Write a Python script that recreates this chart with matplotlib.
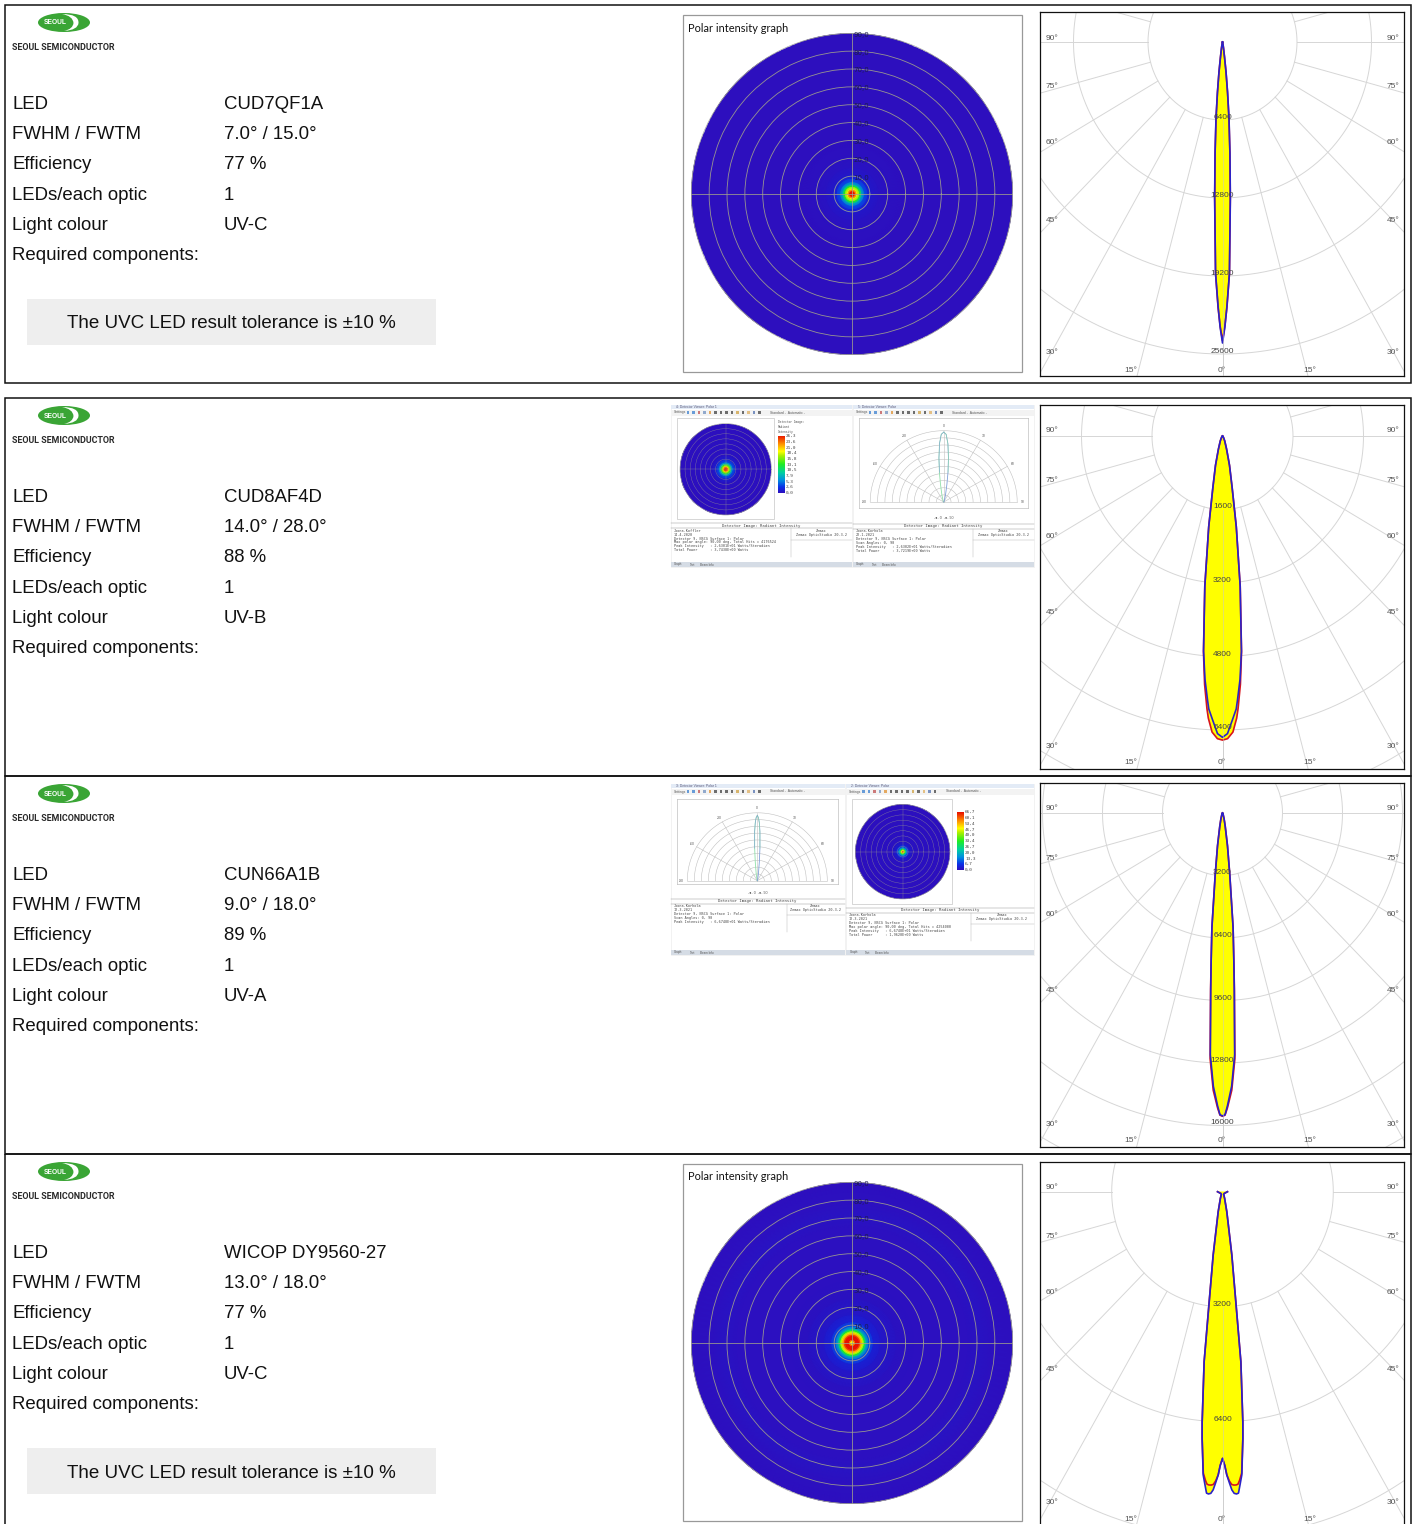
import numpy as np
import matplotlib
matplotlib.use('Agg')
import matplotlib.pyplot as plt
from matplotlib.colors import LinearSegmentedColormap
from matplotlib.patches import Ellipse, PathPatch, Rectangle
from matplotlib.path import Path

W, H = 1415, 1524

# table text
row_labels = ['LED', 'FWHM / FWTM', 'Efficiency', 'LEDs/each optic', 'Light colour', 'Required components:']
led_names = ['CUD7QF1A', 'CUD8AF4D', 'CUN66A1B', 'WICOP DY9560-27']
fwhm_fwtm = ['7.0° / 15.0°', '14.0° / 28.0°', '9.0° / 18.0°', '13.0° / 18.0°']
efficiency = ['77 %', '88 %', '89 %', '77 %']
leds_per_optic = ['1', '1', '1', '1']
light_colour = ['UV-C', 'UV-B', 'UV-A', 'UV-C']
tolerance_note = 'The UVC LED result tolerance is ±10 %'

# candela polar curves, half profile mirrored around 0 deg
cd_steps = [6400, 1600, 3200, 3200]
cd_angle_1 = [0, 0.5, 1, 1.8, 3, 4, 5.1, 6, 7, 8, 10, 14, 25, 90]
cd_blue_1 = [24700, 23400, 21700, 19000, 12900, 9200, 6300, 4200, 2500, 1250, 500, 150, 40, 0]
cd_red_1 = [24500, 23300, 21800, 19000, 12800, 9100, 6200, 4100, 2460, 1230, 500, 150, 40, 0]

cd_angle_2 = [0, 1, 2.1, 3, 3.4, 4.3, 5.25, 7, 9, 11, 14, 18, 25, 35, 60, 90]
cd_blue_2 = [6560, 6480, 6180, 5950, 5750, 5310, 4700, 3290, 2000, 1150, 657, 300, 120, 40, 10, 0]
cd_red_2 = [6620, 6590, 6450, 6150, 5950, 5420, 4720, 3300, 2000, 1150, 657, 300, 120, 40, 10, 0]

cd_angle_3 = [0, 0.5, 1, 2, 3, 4, 4.5, 5.5, 7, 9, 12, 16, 25, 50, 90]
cd_blue_3 = [15510, 15450, 15000, 14000, 12400, 9000, 7750, 5900, 3200, 1700, 700, 300, 80, 10, 0]
cd_red_3 = [15530, 15470, 15100, 14200, 12600, 9100, 7780, 5900, 3200, 1700, 700, 300, 80, 10, 0]

cd_angle_4 = [0, 0.5, 0.9, 1.4, 1.86, 2.3, 2.76, 3.15, 3.5, 4.05, 4.9, 5.24, 6.4, 7.1, 8.7, 12.6, 18, 25, 45, 90]
cd_blue_4 = [7420, 7620, 7880, 8100, 8300, 8400, 8420, 8400, 8200, 7900, 6890, 6430, 4760, 3175, 1780, 570, 200, 80, 70, 144]
cd_red_4 = [7420, 7620, 7880, 8050, 8150, 8170, 8170, 8150, 8050, 7850, 6890, 6430, 4760, 3175, 1780, 570, 200, 80, 70, 144]

# radial false colour profiles of the detector discs (0 to 1 of peak)
disc_r_1 = [0, 1.5, 2, 3, 4.5, 5.5, 7, 9, 11, 15, 22, 30, 90]
disc_v_1 = [1.0, 1.0, 0.9, 0.72, 0.5, 0.3, 0.15, 0.07, 0.03, 0.015, 0.005, 0, 0]
disc_r_2 = [0, 2, 4, 6, 8, 10, 12, 15, 20, 28, 90]
disc_v_2 = [1.0, 1.0, 0.92, 0.78, 0.62, 0.45, 0.3, 0.15, 0.05, 0.01, 0]
disc_r_3 = [0, 1, 2, 3.5, 4.5, 6, 7.5, 10, 14, 20, 90]
disc_v_3 = [1.0, 1.0, 0.9, 0.75, 0.62, 0.42, 0.28, 0.12, 0.04, 0.01, 0]
disc_r_4 = [0, 1, 1.5, 2.3, 4, 5, 6, 7, 8, 9.5, 12, 16, 25, 35, 65, 72, 78, 90]
disc_v_4 = [0.72, 0.72, 0.85, 1.0, 1.0, 0.85, 0.7, 0.5, 0.3, 0.15, 0.06, 0.03, 0.01, 0.005, 0.005, 0.015, 0.005, 0]
disc_ticks = [10, 20, 30, 40, 50, 60, 70, 80, 90]

# small screenshot data
bar_labels_2 = ['26,3', '23,6', '21,0', '18,4', '15,8', '13,1', '10,5', '7,9', '5,3', '2,6', '0,0']
bar_labels_3 = ['66,7', '60,1', '53,4', '46,7', '40,0', '33,4', '26,7', '20,0', '13,3', '6,7', '0,0']
lobe_angle_2 = [0, 2, 4, 6, 8, 10, 14, 20, 30, 60, 90]
lobe_val_2 = [0.98, 0.95, 0.82, 0.62, 0.42, 0.25, 0.10, 0.03, 0.01, 0, 0]
lobe_angle_3 = [0, 1, 2, 3, 4.5, 6, 9, 14, 25, 90]
lobe_val_3 = [0.96, 0.93, 0.85, 0.72, 0.48, 0.28, 0.10, 0.02, 0, 0]
info_2_left = ['Joona.Koffler', '14.4.2020', 'Detector 9, NSCG Surface 1: Polar',
               'Max polar angle: 90,00 deg, Total Hits = 4176524',
               'Peak Intensity   : 2,6301E+01 Watts/Steradian', 'Total Power      : 3,7438E+00 Watts']
info_2_right = ['Joona.Korhola', '22.1.2021', 'Detector 9, NSCG Surface 1: Polar', 'Scan Angles: 0, 90',
                'Peak Intensity   : 2,6302E+01 Watts/Steradian', 'Total Power      : 3,7219E+00 Watts']
info_3_left = ['Joona.Korhola', '12.3.2021', 'Detector 9, NSCG Surface 1: Polar', 'Scan Angles: 0, 90',
               'Peak Intensity   : 6,6748E+01 Watts/Steradian']
info_3_right = ['Joona.Korhola', '12.3.2021', 'Detector 9, NSCG Surface 1: Polar',
                'Max polar angle: 90,00 deg, Total Hits = 4254000',
                'Peak Intensity   : 6,6748E+01 Watts/Steradian', 'Total Power      : 1,9620E+00 Watts']

plt.rcParams['font.family'] = ['Liberation Sans', 'DejaVu Sans']

zemax = LinearSegmentedColormap.from_list('zemax', [
    (0.0, '#2d0fbe'), (0.1, '#0a30e8'), (0.22, '#0090e0'), (0.35, '#00d0a0'), (0.5, '#20ee20'),
    (0.65, '#b0f000'), (0.72, '#ffff00'), (0.85, '#ff9000'), (1.0, '#e81000')])

fig = plt.figure(figsize=(W / 100, H / 100), dpi=100, facecolor='white')


def px_axes(x0, y0, x1, y1, **kw):
    return fig.add_axes([x0 / W, 1 - y1 / H, (x1 - x0) / W, (y1 - y0) / H], **kw)


# page layer in pixel coordinates
page = px_axes(0, 0, W, H, zorder=0)
page.set_xlim(0, W)
page.set_ylim(H, 0)
page.axis('off')


def draw_logo(dy):
    page.add_patch(Ellipse((64, 22.5 + dy), 52, 19, color='#3aa535', lw=0))
    verts = [(62, 14 + dy), (79, 14 + dy), (78.5, 23 + dy), (78, 30 + dy), (64, 31 + dy),
             (73, 29 + dy), (73.5, 23 + dy), (73, 16 + dy), (62, 14 + dy)]
    codes = [Path.MOVETO, Path.CURVE3, Path.CURVE3, Path.CURVE3, Path.CURVE3,
             Path.CURVE3, Path.CURVE3, Path.CURVE3, Path.CURVE3]
    page.add_patch(PathPatch(Path(verts, codes), fc='white', ec='none'))
    page.text(55, 23 + dy, 'SEOUL', color='white', fontsize=4.8, fontweight='bold', ha='center', va='center')
    page.text(12, 50 + dy, 'SEOUL SEMICONDUCTOR', family=['Roboto', 'Liberation Sans'],
              fontweight='bold', fontsize=6.4, color='#2a2a2a', va='baseline')


def draw_table(i, dy, note_box):
    values = [led_names[i], fwhm_fwtm[i], efficiency[i], leds_per_optic[i], light_colour[i]]
    offs = [0, 30, 60, 91, 121, 151]
    for k, label in enumerate(row_labels):
        page.text(12, 109 + dy + offs[k], label, fontsize=13.45, color='#111111', va='baseline')
        if k < 5:
            page.text(224, 109 + dy + offs[k], values[k], fontsize=13.45, color='#111111', va='baseline')
    if note_box:
        page.add_patch(Rectangle((27, 299 + dy), 409, 46, fc='#eeeeee', ec='none'))
        page.text(231.3, 328.5 + dy, tolerance_note, fontsize=13.5, color='#111111', ha='center', va='baseline')


def draw_disc(cx, cy, R, rs, vs, labels):
    ax = px_axes(cx - R, cy - R, cx + R, cy + R, projection='polar', zorder=2)
    theta = np.radians(np.arange(0, 361, 2))
    tt, rr = np.meshgrid(theta, rs)
    zz = np.repeat(np.array(vs)[:, None], len(theta), axis=1)
    ax.pcolormesh(tt, rr, zz, cmap=zemax, vmin=0, vmax=1, shading='gouraud')
    ax.set_ylim(0, 90)
    ax.set_rticks(disc_ticks)
    ax.set_thetagrids([0, 90, 180, 270], labels=[])
    ax.grid(True, color='#a3a38c', lw=0.6 if labels else 0.3, alpha=0.9 if labels else 0.7)
    ax.spines['polar'].set_color('#999999')
    ax.spines['polar'].set_linewidth(0.4)
    ax.set_yticklabels([])
    ax.tick_params(length=0, pad=0)
    if labels:
        for t in disc_ticks:
            ax.annotate(f'{t},0', (np.pi / 2, t), xytext=(1, -1), textcoords='offset points', ha='left', va='center',
                        fontsize=5, color='#1c1c50', family='DejaVu Sans', annotation_clip=False)
    return ax


def draw_candela(x0, y0, x1, y1, oy, ring_py, ring_px, step, angles, blue, red, n_labels):
    ax = px_axes(x0, y0, x1, y1, zorder=2)
    ox = (x0 + x1) / 2 + 0.5
    sx = ring_px / step
    sy = ring_py / step
    ax.set_xlim((x0 - ox) / sx, (x1 - ox) / sx)
    ax.set_ylim((oy - y1) / sy, (oy - y0) / sy)
    ax.set_xticks([])
    ax.set_yticks([])
    for s in ax.spines.values():
        s.set_color('#111111')
        s.set_linewidth(0.9)
    grid_c = '#d6d6d6'
    t = np.radians(np.linspace(-180, 180, 721))
    for k in range(1, 9):
        ax.plot(k * step * np.sin(t), -k * step * np.cos(t), color=grid_c, lw=0.7, zorder=1)
    for a in range(-165, 180, 15):
        aa = np.radians(a)
        ax.plot([step * np.sin(aa), 9 * step * np.sin(aa)], [-step * np.cos(aa), -9 * step * np.cos(aa)],
                color=grid_c, lw=0.7, zorder=1)
    a_half = np.radians(np.array(angles))
    a_full = np.concatenate([-a_half[::-1], a_half[1:]])
    for vals in (red, blue):
        v = np.array(vals, dtype=float)
        v_full = np.concatenate([v[::-1], v[1:]])
        ax.fill(v_full * np.sin(a_full), -v_full * np.cos(a_full), color='#ffff00', lw=0, zorder=2)
    for vals, col in ((red, '#d8141c'), (blue, '#2a22c8')):
        v = np.array(vals, dtype=float)
        v_full = np.concatenate([v[::-1], v[1:]])
        ax.plot(v_full * np.sin(a_full), -v_full * np.cos(a_full), color=col, lw=1.2, zorder=3)
    ax.plot([0, 0], [-step, -9 * step], color='#c8c8c8', lw=0.6, zorder=4, alpha=0.6)
    for k in range(1, n_labels + 1):
        ax.annotate(str(k * step), (0, -k * step), xytext=(0, 1.8), textcoords='offset points',
                    ha='center', va='center', fontsize=6, color='#444444', zorder=5)
    h = y1 - y0
    for lab, yy in (('90°', 26), ('75°', 75), ('60°', 131), ('45°', 208), ('30°', 341)):
        ax.text(6 / (x1 - x0), 1 - yy / h, lab, transform=ax.transAxes, fontsize=6, color='#555555', va='center')
        ax.text(1 - 17 / (x1 - x0), 1 - yy / h, lab, transform=ax.transAxes, fontsize=6, color='#555555',
                va='center', ha='left')
    for lab, xx in (('15°', 91), ('0°', 181.5), ('15°', 270)):
        ax.text(xx / (x1 - x0), 1 - 358 / h, lab, transform=ax.transAxes, fontsize=6, color='#555555',
                ha='center', va='center')


def draw_window(x0, y0, x1, y1, title, tool_h=6):
    page.add_patch(Rectangle((x0, y0), x1 - x0, y1 - y0, fc='white', ec='#e8e8e8', lw=0.4))
    page.add_patch(Rectangle((x0, y0), x1 - x0, 4, fc='#e3ebf6', ec='none'))
    page.text(x0 + 5, y0 + 2, title, fontsize=2.4, color='#555577', va='center')
    page.add_patch(Rectangle((x0, y0 + 4.5), x1 - x0, tool_h, fc='#f3f3f3', ec='none'))
    page.text(x0 + 3, y0 + 7.5, 'Settings', fontsize=2.4, color='#555555', va='center')
    cols = ['#3a7fd0', '#3a7fd0', '#c05050', '#7090c0', '#e09030', '#404040', '#404040', '#404040', '#404040',
            '#d0a040', '#404040', '#e0b060', '#5070b0', '#404040']
    for k, c in enumerate(cols):
        page.add_patch(Rectangle((x0 + 16 + k * 5.5, y0 + 6), 2.8, 3, fc=c, ec='none', alpha=0.75))
    page.text(x0 + 100, y0 + 7.5, 'Standard -  Automatic -', fontsize=2.4, color='#555555', va='center')
    page.add_patch(Rectangle((x0, y1 - 5), x1 - x0, 5, fc='#d5dce5', ec='none'))
    for k, lab in enumerate(['Graph', 'Text', 'Beam Info']):
        page.text(x0 + 8 + k * 14, y1 - 2.5, lab, fontsize=2.2, color='#555555', ha='center', va='center')


def draw_info(x0, x1, y_title, xsep, lines):
    page.plot([x0, x1], [y_title - 2.5, y_title - 2.5], color='#9a9a9a', lw=0.35)
    page.plot([x0, x1], [y_title + 2.5, y_title + 2.5], color='#9a9a9a', lw=0.35)
    page.text((x0 + x1) / 2, y_title, 'Detector Image: Radiant Intensity', family='DejaVu Sans Mono', fontsize=2.8,
              color='#444444', ha='center', va='center')
    for k, line in enumerate(lines):
        page.text(x0 + 3, y_title + 5 + k * 3.9, line, family='DejaVu Sans Mono', fontsize=2.5, color='#444444',
                  va='center')
    page.plot([xsep, xsep], [y_title + 2.5, y_title + 31], color='#bbbbbb', lw=0.35)
    page.text((xsep + x1) / 2, y_title + 5, 'Zemax', family='DejaVu Sans Mono', fontsize=2.5, color='#444444',
              ha='center', va='center')
    page.text((xsep + x1) / 2, y_title + 9, 'Zemax OpticStudio 20.3.2', family='DejaVu Sans Mono', fontsize=2.5,
              color='#444444', ha='center', va='center')
    page.plot([xsep, x1], [y_title + 14, y_title + 14], color='#bbbbbb', lw=0.35)


def draw_half_polar(x0, y0, x1, y1, ox, oy, R, angles, vals):
    ax = px_axes(x0, y0, x1, y1, zorder=2)
    ax.set_xlim((x0 - ox) / R, (x1 - ox) / R)
    ax.set_ylim((oy - y1) / (R * 0.97), (oy - y0) / (R * 0.97))
    ax.set_xticks([])
    ax.set_yticks([])
    for s in ax.spines.values():
        s.set_color('#b0b0b0')
        s.set_linewidth(0.4)
    t = np.radians(np.linspace(-90, 90, 181))
    for k in range(1, 11):
        ax.plot(k / 10 * np.sin(t), k / 10 * np.cos(t), color='#c0c0c0', lw=0.4)
    for a in (-90, -60, -30, 0, 30, 60, 90):
        aa = np.radians(a)
        ax.plot([0, np.sin(aa)], [0, np.cos(aa)], color='#c0c0c0', lw=0.4)
        ax.text(1.08 * np.sin(aa), 1.07 * np.cos(aa), str(a), fontsize=2.4, color='#555555', ha='center', va='center')
    a_half = np.radians(np.array(angles))
    v = np.array(vals)
    for sign, col in ((-1, '#8fe0a8'), (1, '#7f9fd8')):
        ax.plot(sign * v * np.sin(a_half), v * np.cos(a_half), color=col, lw=0.6)
    for sign, col in ((1, '#8fe0a8'), (-1, '#7f9fd8')):
        ax.plot(sign * v[:5] * np.sin(a_half[:5]), v[:5] * np.cos(a_half[:5]), color=col, lw=0.4)


def draw_colorbar(x0, y0, x1, y1, labels):
    ax = px_axes(x0, y0, x1, y1, zorder=2)
    ax.imshow(np.linspace(1, 0, 128)[:, None], aspect='auto', cmap=zemax, vmin=0, vmax=1)
    ax.axis('off')
    for k, lab in enumerate(labels):
        yy = y0 + (y1 - y0) * k / (len(labels) - 1)
        page.text(x1 + 1, yy, lab, family='DejaVu Sans Mono', fontsize=3.2, color='#444444', va='center')


# outer row boxes
for y0, y1 in ((4.5, 383), (398, 776), (776, 1154), (1154, 1530)):
    page.add_patch(Rectangle((4.5, y0), 1406.5, y1 - y0, fc='none', ec='#111111', lw=1.1))

row_dy = [0, 393, 771, 1149]
for i, dy in enumerate(row_dy):
    draw_logo(dy)
    draw_table(i, dy, i in (0, 3))

# rendered disc panels of rows 1 and 4
for y0, y1, cy, rs, vs in ((15, 372, 194, disc_r_1, disc_v_1), (1164, 1521, 1343, disc_r_4, disc_v_4)):
    page.add_patch(Rectangle((682.5, y0), 339, y1 - y0, fc='white', ec='#999999', lw=0.9))
    page.text(688, y0 + 13, 'Polar intensity graph', family=['Lato', 'DejaVu Sans'], fontsize=7.9, color='#111111',
              va='center')
    draw_disc(852, cy, 160.7, rs, vs, True)

# row 2 screenshots
draw_window(670.5, 405, 851.5, 567, '4: Detector Viewer: Polar 1')
draw_window(852.5, 405, 1033.5, 567, '5: Detector Viewer: Polar')
page.add_patch(Rectangle((677, 418), 97, 101, fc='white', ec='#b8b8b8', lw=0.4))
draw_disc(725.7, 469.3, 45.7, disc_r_2, disc_v_2, False)
page.text(778, 427, 'Detector Image:\nRadiant\nIntensity', family='DejaVu Sans Mono', fontsize=2.2, color='#555555',
          va='center')
draw_colorbar(778, 436, 785, 493, bar_labels_2)
draw_half_polar(858.7, 418, 1028, 508, 943.7, 502, 73.5, lobe_angle_2, lobe_val_2)
page.text(943.7, 518, '-●- 0  -●- 90', fontsize=2.6, color='#555555', ha='center', va='center')
draw_info(670.5, 851.5, 525.6, 790.5, info_2_left)
draw_info(852.5, 1033.5, 526, 972.5, info_2_right)

# row 3 screenshots
draw_window(670.5, 784, 844.5, 955, '3: Detector Viewer: Polar 1')
draw_window(846, 784, 1033.5, 955, '2: Detector Viewer: Polar')
draw_half_polar(677, 799, 838, 884, 757.3, 880.7, 70, lobe_angle_3, lobe_val_3)
page.text(757.3, 893, '-●- 0  -●- 90', fontsize=2.6, color='#555555', ha='center', va='center')
draw_info(670.5, 844.5, 901, 786.5, info_3_left)
page.add_patch(Rectangle((852, 799), 100, 105, fc='white', ec='#b8b8b8', lw=0.4))
draw_disc(902.7, 851.7, 47.3, disc_r_3, disc_v_3, False)
draw_colorbar(957, 812, 964, 870, bar_labels_3)
draw_info(846, 1033.5, 910, 970.5, info_3_right)

# candela panels
draw_candela(1040, 12, 1404, 375.5, 42, 78, 74.5, cd_steps[0], cd_angle_1, cd_blue_1, cd_red_1, 4)
draw_candela(1040, 405, 1404, 768.5, 436, 73.5, 70.5, cd_steps[1], cd_angle_2, cd_blue_2, cd_red_2, 4)
draw_candela(1040, 783, 1404, 1146.5, 813, 62.5, 60, cd_steps[2], cd_angle_3, cd_blue_3, cd_red_3, 5)
draw_candela(1040, 1161.5, 1404, 1525, 1191.7, 115, 110.8, cd_steps[3], cd_angle_4, cd_blue_4, cd_red_4, 2)

fig.savefig('out.png', dpi=100)
